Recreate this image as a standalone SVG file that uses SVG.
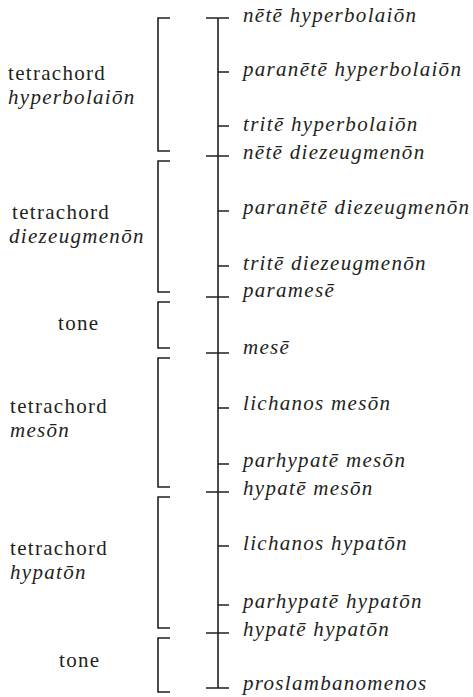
<svg xmlns="http://www.w3.org/2000/svg" width="473" height="697" viewBox="0 0 473 697">
<style>
.t{font-family:'Liberation Serif','DejaVu Serif','Noto Serif',serif;font-size:21px;letter-spacing:1.3px;fill:#231f20}
.i{font-style:italic}
.ln{stroke:#231f20;stroke-width:1.6;fill:none}
</style>
<rect width="473" height="697" fill="#fff"/>
<g id="connectors" class="ln">
<path d="M218 18V688"/>
<path d="M206 18H229M218 72H229M218 126H229M206 156H229M218 211H229M218 266H229M206 297H229M206 353H229M218 408H229M218 464H229M206 492H229M218 546H229M218 605H229M206 633H229M206 688H229"/>
</g>
<g id="brackets" class="ln">
<path d="M170 18H158V151H170"/>
<path d="M170 161H158V292H170"/>
<path d="M170 302H158V348H170"/>
<path d="M170 358H158V487H170"/>
<path d="M170 497H158V628H170"/>
<path d="M170 638H158V692H170"/>
</g>
<g id="group-hyperbolaion"><text class="t" font-family="Liberation Serif" x="8" y="80">tetrachord</text><text class="t i" font-family="Liberation Serif" x="8" y="104">hyperbolaiōn</text></g>
<g id="group-diezeugmenon"><text class="t" x="12" y="219">tetrachord</text><text class="t i" x="9" y="243">diezeugmenōn</text></g>
<g id="group-tone1"><text class="t" x="58" y="330">tone</text></g>
<g id="group-meson"><text class="t" x="10" y="413">tetrachord</text><text class="t i" x="10" y="437">mesōn</text></g>
<g id="group-hypaton"><text class="t" x="10" y="555">tetrachord</text><text class="t i" x="10" y="579">hypatōn</text></g>
<g id="group-tone2"><text class="t" x="59" y="667">tone</text></g>
<g id="n1"><text class="t i" x="243" y="22">nētē hyperbolaiōn</text></g>
<g id="n2"><text class="t i" x="243" y="76">paranētē hyperbolaiōn</text></g>
<g id="n3"><text class="t i" x="243" y="131">tritē hyperbolaiōn</text></g>
<g id="n4"><text class="t i" x="243" y="159">nētē diezeugmenōn</text></g>
<g id="n5"><text class="t i" x="243" y="214">paranētē diezeugmenōn</text></g>
<g id="n6"><text class="t i" x="243" y="270">tritē diezeugmenōn</text></g>
<g id="n7"><text class="t i" x="243" y="297">paramesē</text></g>
<g id="n8"><text class="t i" x="243" y="354">mesē</text></g>
<g id="n9"><text class="t i" x="243" y="410">lichanos mesōn</text></g>
<g id="n10"><text class="t i" x="243" y="467">parhypatē mesōn</text></g>
<g id="n11"><text class="t i" x="243" y="495">hypatē mesōn</text></g>
<g id="n12"><text class="t i" x="243" y="550">lichanos hypatōn</text></g>
<g id="n13"><text class="t i" x="243" y="608">parhypatē hypatōn</text></g>
<g id="n14"><text class="t i" x="243" y="636">hypatē hypatōn</text></g>
<g id="n15"><text class="t i" x="243" y="690">proslambanomenos</text></g>
</svg>
